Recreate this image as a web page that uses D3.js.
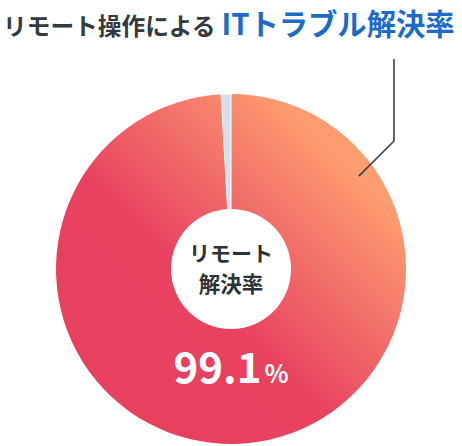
<!DOCTYPE html>
<html><head><meta charset="utf-8">
<script src="https://cdn.jsdelivr.net/npm/d3@7"></script>
<style>html,body{margin:0;padding:0;background:#fff;}svg{display:block;}</style>
</head><body>
<svg id="c" width="462" height="446"></svg>
<script>
const categories = ["リモート解決", "その他"];
const values = [99.1, 0.9];
const titleParts = ["リモート操作による", "ITトラブル解決率"];
const centerLabel = ["リモート", "解決率"];
const valueLabel = ["99.1", "%"];

const svg = d3.select("#c");
const W = 462, H = 446;
const cx = 231, cy = 269, R = 175, hole = 60;
const font = "'Noto Sans CJK JP','Noto Sans',sans-serif";

const defs = svg.append("defs");
const grad = defs.append("linearGradient").attr("id","g")
  .attr("gradientUnits","userSpaceOnUse")
  .attr("x1", cx + R).attr("y1", cy - R).attr("x2", cx - R).attr("y2", cy + R);
grad.append("stop").attr("offset","0.13").attr("stop-color","#fd9c6f");
grad.append("stop").attr("offset","0.32").attr("stop-color","#f2706a");
grad.append("stop").attr("offset","0.52").attr("stop-color","#e8425f");
grad.append("stop").attr("offset","1").attr("stop-color","#e83f5f");

const pie = d3.pie().sort(null).value(d => d)(values);
const arc = d3.arc().innerRadius(0).outerRadius(R);
const color = d3.scaleOrdinal().domain(categories).range(["url(#g)", "#d8e0e7"]);

const g = svg.append("g").attr("transform", `translate(${cx},${cy})`);
g.selectAll("path").data(pie).join("path")
  .attr("d", arc)
  .attr("fill", (d,i) => color(categories[i]))
  .attr("stroke", (d,i) => i === 1 ? "#fff" : "none")
  .attr("stroke-width", 1);

g.append("circle").attr("r", hole).attr("fill", "#fff");

g.append("text").attr("text-anchor","middle").attr("y", -8)
  .attr("font-family", font).attr("font-weight", 700).attr("font-size", 21)
  .attr("fill", "#2b3336").text(centerLabel[0]);
g.append("text").attr("text-anchor","middle").attr("y", 23)
  .attr("font-family", font).attr("font-weight", 700).attr("font-size", 21.5)
  .attr("fill", "#2b3336").text(centerLabel[1]);

const vt = g.append("text").attr("text-anchor","middle").attr("y", 114)
  .attr("font-family", font).attr("font-weight", 700).attr("fill", "#fff");
vt.append("tspan").attr("font-size", 42).text(valueLabel[0]);
vt.append("tspan").attr("font-size", 25).attr("dx", 3).text(valueLabel[1]);

// leader line from the main slice
const a = 54 * Math.PI / 180, rr = 158;
const p0 = [cx + rr * Math.sin(a), cy - rr * Math.cos(a)];
const ex = 394;
const p1 = [ex, p0[1] - (ex - p0[0])];
const p2 = [ex, 59];
svg.append("path").attr("d", d3.line()([p0, p1, p2]))
  .attr("fill","none").attr("stroke","#3a4348").attr("stroke-width",1.6);

const t = svg.append("text").attr("x", 3).attr("y", 35).attr("font-family", font).attr("font-weight", 700);
t.append("tspan").attr("font-size", 23.7).attr("fill", "#323a3f").text(titleParts[0]);
t.append("tspan").attr("font-size", 29.3).attr("fill", "#1c6bc9").attr("dx", 6).text(titleParts[1]);
</script>
</body></html>
